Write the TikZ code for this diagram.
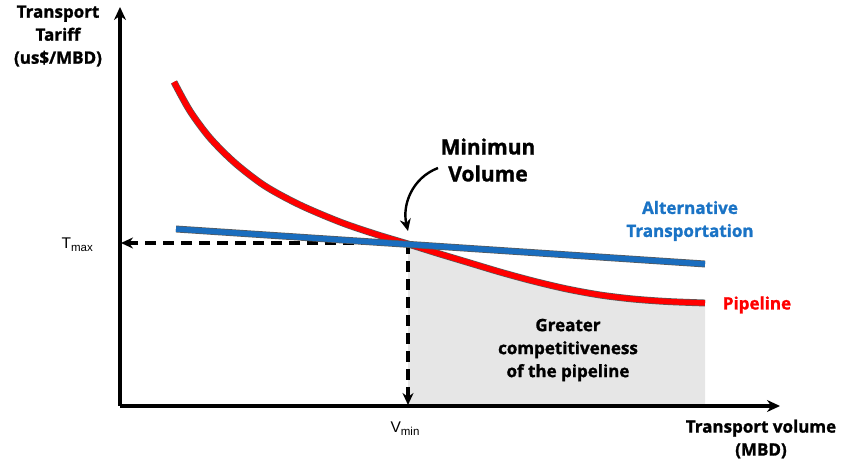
\documentclass[tikz,border=0pt]{standalone}
\usepackage{fontspec}
\setmainfont{Open Sans}[BoldFeatures={FakeBold=1.3}]
\newfontfamily\arialf{Liberation Sans}
\usetikzlibrary{arrows.meta}
\definecolor{pipered}{HTML}{FF0000}
\definecolor{altblue}{HTML}{1A6DBE}
\definecolor{txtblue}{HTML}{1A73C5}
\definecolor{areagray}{HTML}{E6E6E6}
\tikzset{
  axis/.style={line width=3.4pt, -{Stealth[length=13pt,width=12pt]}},
  guide/.style={line width=3.2pt, dash pattern=on 11pt off 7pt, -{Stealth[length=12pt,width=11pt]}},
  curve/.style={draw=black!65, line width=0.7pt, double distance=5.5pt},
  lbl/.style={font=\bfseries\fontsize{17}{23}\selectfont, align=center, inner sep=0pt},
  biglbl/.style={font=\bfseries\fontsize{21}{27}\selectfont, align=center, inner sep=0pt},
  sub/.style={font=\arialf\fontsize{15.5}{15.5}\selectfont, inner sep=0pt},
}
\begin{document}
\begin{tikzpicture}[x=1pt,y=-1pt]
\useasboundingbox (0,0) rectangle (847,462);
% shaded area
\fill[areagray] plot[smooth] coordinates {(408,244) (440,254) (470,263) (500,272) (533,281) (567,289) (600,295) (633,299) (667,301.5) (705,303)} -- (705,406) -- (408,406) -- cycle;
% key points
\coordinate (O) at (120,406);
\coordinate (Ytop) at (120,7);
\coordinate (Xend) at (780,406);
\coordinate (X) at (408,243);
\coordinate (Ty) at (121,243);
\coordinate (Vx) at (408,405);
\coordinate (arrS) at (438,168);
\coordinate (arrE) at (408,231);
% dashed guides
\draw[guide] (X) -- (Ty);
\draw[guide] (X) -- (Vx);
% axes
\draw[axis] (O) -- (Ytop);
\draw[axis] (O) -- (Xend);
% red pipeline curve
\draw[curve, double=pipered] plot[smooth] coordinates {(174,82) (190,111) (210,138) (235,163) (265,186) (300,205) (340,222) (375,234) (408,244) (440,254) (470,263) (500,272) (533,281) (567,289) (600,295) (633,299) (667,301.5) (705,303)};
% blue alternative line
\coordinate (B1) at (176,229);
\coordinate (B2) at (705,264);
\draw[curve, double=altblue] (B1) -- (B2);
% curved arrow
\draw[line width=2.4pt, -{Stealth[length=12pt,width=11pt]}] (arrS) .. controls (412,178) and (402,205) .. (arrE);
% labels
\node[lbl] (ytitle) at (58,36) {Transport\\Tariff\\(us\$/MBD)};
\node[lbl] (xtitle) at (761,439) {Transport volume\\(MBD)};
\node[biglbl] (mv) at (488,160) {Minimun\\Volume};
\node[lbl, text=txtblue] (alt) at (690,221) {Alternative\\Transportation};
\node[lbl, text=pipered] (pl) at (757,305) {Pipeline};
\node[lbl] (gc) at (568,350) {Greater\\competitiveness\\of the pipeline};
\node[sub, anchor=base east] (tmax) at (93,249) {T\raisebox{-3pt}{\fontsize{11.5}{11.5}\selectfont max}};
\node[sub, anchor=base] (vmin) at (405,433) {V\raisebox{-3pt}{\fontsize{11.5}{11.5}\selectfont min}};
\end{tikzpicture}
\end{document}
